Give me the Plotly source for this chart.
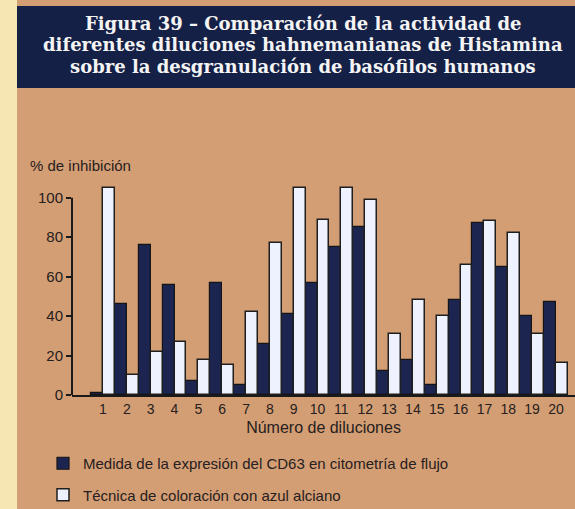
import plotly.graph_objects as go

diluciones = list(range(1, 21))
cd63 = [1, 46, 76, 56, 7, 57, 5, 26, 41, 57, 75, 85, 12, 18, 5, 48, 87, 65, 40, 47]
azul_alciano = [105, 10, 22, 27, 18, 15, 42, 77, 105, 89, 105, 99, 31, 48, 40, 66, 88, 82, 31, 16]

titulo = [
    "Figura 39 – Comparación de la actividad de",
    "diferentes diluciones hahnemanianas de Histamina",
    "sobre la desgranulación de basófilos humanos",
]

W, H = 575, 509
ML, MR, MT, MB = 72, 0, 184, 114
pw, ph = W - ML - MR, H - MT - MB


def px(x):
    return (x - ML) / pw


def py(y):
    return (H - MB - y) / ph


bg = "#d49e74"
ink = "#262020"
sans = "Liberation Sans, Arial"

fig = go.Figure()

fig.add_trace(
    go.Bar(
        x=diluciones,
        y=cd63,
        name="Medida de la expresión del CD63 en citometría de flujo",
        marker=dict(color="#1c2450", line=dict(color="#141414", width=1.2)),
        legendgroup="a",
    )
)
fig.add_trace(
    go.Bar(
        x=diluciones,
        y=azul_alciano,
        name="Técnica de coloración con azul alciano",
        marker=dict(color="#eef2ff", line=dict(color="#1e1e1e", width=1.5)),
        legendgroup="b",
    )
)

# left cream strip and title box
fig.add_shape(type="rect", xref="paper", yref="paper", x0=px(0), x1=px(17), y0=py(H), y1=py(0),
              fillcolor="#f6e6b4", line_width=0, layer="below")
fig.add_shape(type="rect", xref="paper", yref="paper", x0=px(17), x1=px(W), y0=py(88), y1=py(6),
              fillcolor="#142046", line_width=0)
# y axis line stops at 100, like the original
fig.add_shape(type="line", xref="paper", yref="y", x0=0, x1=0, y0=0, y1=100,
              line=dict(color="#1a1a1a", width=2))

# title lines set one by one to keep them tight
for i, linea in enumerate(titulo):
    fig.add_annotation(
        xref="paper", yref="paper", x=px(303), y=py(23 + 21.5 * i), xanchor="center", yanchor="middle",
        text="<b>" + linea + "</b>", showarrow=False,
        font=dict(family="DejaVu Serif, serif", size=18, color="#f4f4f4"),
    )
fig.add_annotation(
    xref="paper", yref="paper", x=px(28), y=py(165), xanchor="left", yanchor="middle",
    text="% de inhibición", showarrow=False, font=dict(family=sans, size=15, color=ink),
)

fig.update_layout(
    width=W,
    height=H,
    margin=dict(l=ML, r=MR, t=MT, b=MB, pad=0, autoexpand=False),
    paper_bgcolor=bg,
    plot_bgcolor=bg,
    barmode="group",
    bargap=0.0,
    bargroupgap=0.0,
    font=dict(family=sans, color=ink),
    showlegend=True,
    legend=dict(
        x=px(43), y=py(447), xanchor="left", yanchor="top",
        orientation="v", bgcolor="rgba(0,0,0,0)", tracegroupgap=9,
        font=dict(family=sans, size=15, color=ink),
        itemwidth=30,
    ),
    xaxis=dict(
        range=[-0.3, 20.8],
        automargin=False,
        tickmode="array",
        tickvals=diluciones,
        ticktext=[str(d) for d in diluciones],
        showline=True,
        linecolor="#1a1a1a",
        linewidth=2,
        ticks="",
        showgrid=False,
        zeroline=False,
        tickfont=dict(size=14, color=ink),
        title=dict(text="Número de diluciones", font=dict(size=16, color=ink), standoff=6),
    ),
    yaxis=dict(
        range=[0, 107],
        automargin=False,
        tickvals=[0, 20, 40, 60, 80, 100],
        showline=False,
        ticks="outside",
        ticklen=5,
        tickwidth=2,
        tickcolor="#1a1a1a",
        showgrid=False,
        zeroline=False,
        tickfont=dict(size=15, color=ink),
    ),
)

fig.write_html("out.html", config={"displayModeBar": False},
               post_script="document.body.style.margin='0';")
